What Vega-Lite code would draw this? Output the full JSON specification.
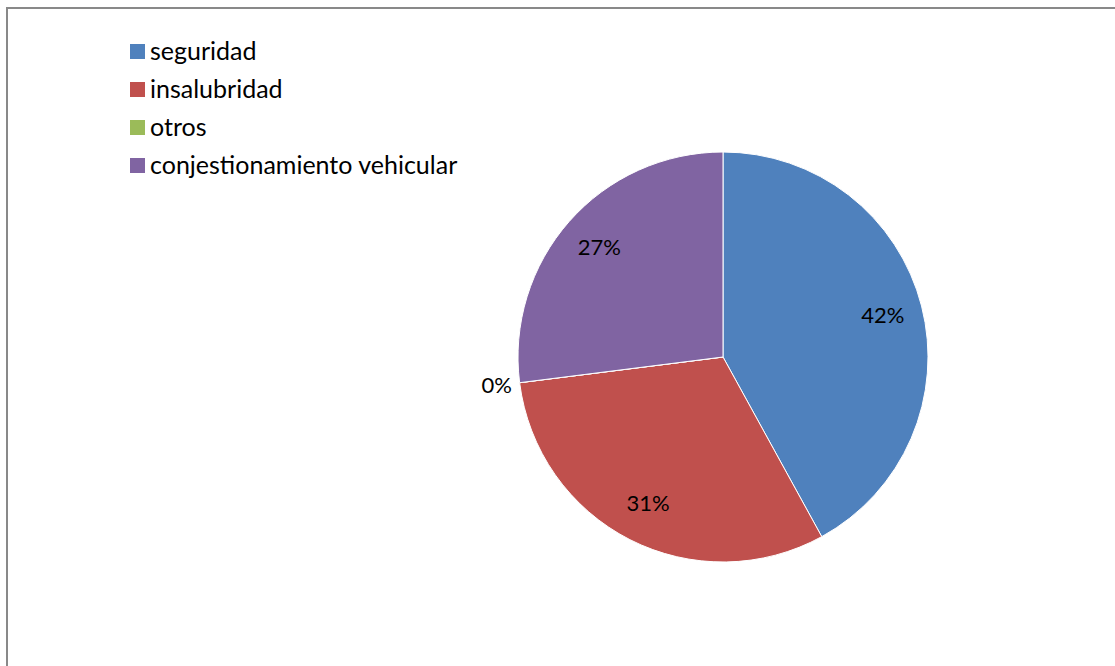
{
  "$schema": "https://vega.github.io/schema/vega-lite/v6.json",
  "width": 1113,
  "height": 663,
  "autosize": {"type": "none"},
  "padding": {"left": 7, "top": 8, "right": -5, "bottom": -5},
  "background": "white",
  "config": {
    "view": {"stroke": "#898989", "strokeWidth": 2},
    "font": "Lato",
    "text": {"font": "Lato"}
  },
  "data": {
    "values": [
      {"categoria": "seguridad", "valor": 42, "etiqueta": "42%", "orden": 1},
      {"categoria": "insalubridad", "valor": 31, "etiqueta": "31%", "orden": 2},
      {"categoria": "otros", "valor": 0, "etiqueta": "0%", "orden": 3},
      {"categoria": "conjestionamiento vehicular", "valor": 27, "etiqueta": "27%", "orden": 4}
    ]
  },
  "encoding": {
    "theta": {"field": "valor", "type": "quantitative", "stack": true},
    "order": {"field": "orden", "type": "quantitative"}
  },
  "layer": [
    {
      "mark": {"type": "arc", "outerRadius": 205, "stroke": "#ffffff", "strokeWidth": 1},
      "encoding": {
        "x": {"value": 716},
        "y": {"value": 349},
        "color": {
          "field": "categoria",
          "type": "nominal",
          "scale": {
            "domain": ["seguridad", "insalubridad", "otros", "conjestionamiento vehicular"],
            "range": ["#4F81BD", "#C0504D", "#9BBB59", "#8064A2"]
          },
          "legend": {
            "title": null,
            "orient": "none",
            "legendX": 118,
            "legendY": 31,
            "padding": 0,
            "symbolType": "square",
            "symbolSize": 225,
            "symbolStrokeWidth": 0,
            "labelFontSize": 25,
            "labelFont": "Lato",
            "labelColor": "#000000",
            "labelOffset": 0,
            "rowPadding": 12,
            "labelLimit": 600
          }
        }
      }
    },
    {
      "mark": {"type": "text", "radius": 165, "fontSize": 22, "color": "#000000"},
      "encoding": {
        "x": {"value": 716},
        "y": {"value": 349},
        "text": {"field": "etiqueta", "type": "nominal"},
        "opacity": {"condition": {"test": "datum.valor > 0", "value": 1}, "value": 0}
      }
    },
    {
      "mark": {"type": "text", "radius": 228, "fontSize": 22, "color": "#000000"},
      "encoding": {
        "x": {"value": 716},
        "y": {"value": 349},
        "text": {"field": "etiqueta", "type": "nominal"},
        "opacity": {"condition": {"test": "datum.valor == 0", "value": 1}, "value": 0}
      }
    }
  ]
}
